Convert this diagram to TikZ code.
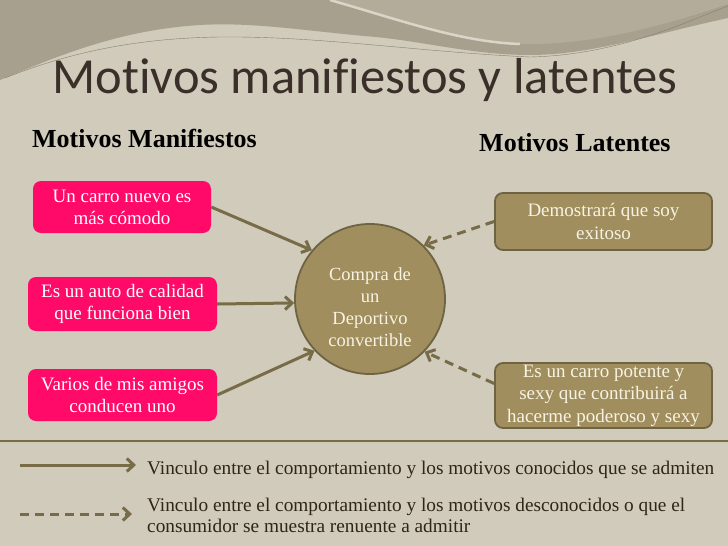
\documentclass[tikz,border=0pt]{standalone}
\usepackage{fontspec}
\setmainfont{Liberation Serif}
\newfontfamily\titlefont[Ligatures={NoCommon}]{Carlito}
\usetikzlibrary{arrows.meta}
\definecolor{bgc}{HTML}{D0CBBA}
\definecolor{topdark}{HTML}{A8A08E}
\definecolor{topmid}{HTML}{B3AC9A}
\definecolor{pinkc}{HTML}{FF0A68}
\definecolor{brownc}{HTML}{A08E5E}
\definecolor{brownb}{HTML}{6E6343}
\definecolor{arrowc}{HTML}{776B48}
\definecolor{titlec}{HTML}{3B2F2A}
\definecolor{legc}{HTML}{2E2618}
\definecolor{creamc}{HTML}{F8F3E2}
\tikzset{
  pinkbox/.style={fill=pinkc, rounded corners=8pt, text=white, align=center,
    inner sep=0pt, font=\fontsize{19}{22}\selectfont},
  brownbox/.style={fill=brownc, draw=brownb, line width=1.8pt, rounded corners=8pt,
    text=creamc, align=center, inner sep=0pt, font=\fontsize{19}{22.5}\selectfont},
  solidarrow/.style={draw=arrowc, line width=3pt, -{Straight Barb[length=7pt,width=13pt,line width=3pt]}},
  dasharrow/.style={solidarrow, dash pattern=on 9pt off 6pt},
  header/.style={font=\bfseries\fontsize{26}{28}\selectfont, text=black, inner sep=0pt},
  legtext/.style={font=\fontsize{19.3}{22}\selectfont, text=legc, inner sep=0pt, align=left}
}
\begin{document}
\begin{tikzpicture}[x=1pt,y=-1pt]
\useasboundingbox (0,0) rectangle (728,546);
\fill[bgc] (0,0) rectangle (728,546);
% top decoration
\fill[topdark] (0,0) -- (728,0) -- (728,18)
  .. controls (650,35) and (590,55) .. (530,55)
  .. controls (470,55) and (420,40) .. (364,36)
  .. controls (300,30) and (250,22) .. (200,25)
  .. controls (120,30) and (60,55) .. (0,80) -- cycle;
\fill[topmid] (330,0) .. controls (400,20) and (460,42) .. (520,44)
  .. controls (600,46) and (680,20) .. (728,4) -- (728,0) -- cycle;
\draw[bgc!80!white, line width=2.5pt] (330,0) .. controls (400,20) and (460,42) .. (520,44);
\draw[topdark!80!black, line width=0.4pt] (5,78) .. controls (80,48) and (150,38) .. (220,37)
  .. controls (320,36) and (420,52) .. (530,57) .. controls (620,55) and (690,20) .. (728,6);
% title
\node[font=\titlefont\fontsize{50.5}{54}\selectfont, text=titlec, anchor=base, inner sep=0pt] (title) at (365,93) {Motivos manifiestos y latentes};
% headers
\node[header, anchor=base west] (hm) at (32,147) {Motivos Manifiestos};
\node[header, anchor=base west] (hl) at (479,151) {Motivos Latentes};
% pink boxes
\node[pinkbox, minimum width=178pt, minimum height=52pt] (p1) at (122,207) {Un carro nuevo es\\más cómodo};
\node[pinkbox, minimum width=189pt, minimum height=54pt] (p2) at (122.5,304) {Es un auto de calidad\\que funciona bien};
\node[pinkbox, minimum width=189pt, minimum height=52pt] (p3) at (122.5,395) {Varios de mis amigos\\conducen uno};
% circle
\node[circle, fill=brownc, draw=brownb, line width=1.8pt, minimum size=150pt, inner sep=0pt] (c) at (370,299) {};
\node[text=creamc, align=center, inner sep=0pt, font=\fontsize{18.5}{22}\selectfont] (ct) at (370,307) {Compra de\\un\\Deportivo\\convertible};
% brown boxes
\node[brownbox, minimum width=217pt, minimum height=57pt] (b1) at (603.5,221.5) {Demostrará que soy\\exitoso};
\node[brownbox, minimum width=217pt, minimum height=65pt] (b2) at (603.5,395.5) {Es un carro potente y\\sexy que contribuirá a\\hacerme poderoso y sexy};
% arrows
\draw[solidarrow] (p1.east) -- (c.140);
\draw[solidarrow] (p2.east) -- (c.183);
\draw[solidarrow] (p3.east) -- (c.223);
\draw[dasharrow] (b1.west) -- (c.45);
\draw[dasharrow] ([yshift=12pt]b2.west) -- (c.-44);
% separator
\coordinate (sl) at (0,441);
\coordinate (sr) at (728,441);
\draw[arrowc, line width=1.5pt] (sl) -- (sr);
% legend
\coordinate (l1a) at (20,465);
\coordinate (l1b) at (136,465);
\coordinate (l2a) at (20,514);
\coordinate (l2b) at (132,514);
\draw[solidarrow] (l1a) -- (l1b);
\draw[dasharrow] (l2a) -- (l2b);
\node[legtext, anchor=base west] (t1) at (147,474) {Vinculo entre el comportamiento y los motivos conocidos que se admiten};
\node[legtext, anchor=base west] (t2) at (147,511) {Vinculo entre el comportamiento y los motivos desconocidos o que el};
\node[legtext, anchor=base west] (t3) at (147,532) {consumidor se muestra renuente a admitir};
\end{tikzpicture}
\end{document}
